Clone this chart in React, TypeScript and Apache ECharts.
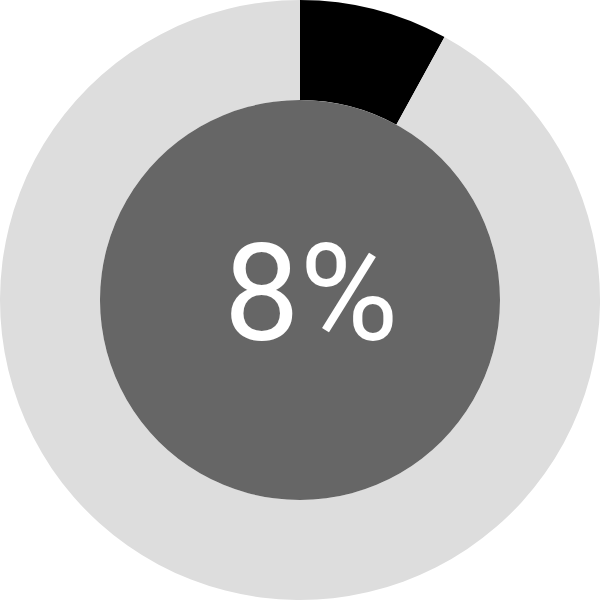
import React, { useRef, useEffect } from 'react';
import * as echarts from 'echarts';

const percent = 8;
const sliceNames = ['value', 'rest'];
const sliceValues = [percent, 100 - percent];
const sliceColors = ['#000000', '#dddddd'];

const App: React.FC = () => {
  const chartRef = useRef<HTMLDivElement>(null);

  useEffect(() => {
    document.body.style.margin = '0';
    if (!chartRef.current) return;
    const chart = echarts.init(chartRef.current, null, { renderer: 'svg' });
    chart.setOption({
      animation: false,
      series: [
        {
          type: 'pie',
          radius: ['66.67%', '100%'],
          center: ['50%', '50%'],
          startAngle: 90,
          clockwise: true,
          silent: true,
          label: { show: false },
          labelLine: { show: false },
          data: sliceNames.map((name, i) => ({
            name,
            value: sliceValues[i],
            itemStyle: { color: sliceColors[i] },
          })),
        },
        {
          type: 'pie',
          radius: [0, '66.67%'],
          center: ['50%', '50%'],
          silent: true,
          label: { show: false },
          labelLine: { show: false },
          data: [{ name: 'center', value: 1, itemStyle: { color: '#666666' } }],
        },
      ],
      graphic: [
        {
          type: 'text',
          z: 100,
          x: 311,
          y: 294,
          style: {
            text: `${percent}%`,
            fill: '#ffffff',
            fontSize: 135,
            fontFamily: 'Roboto',
            textAlign: 'center',
            textVerticalAlign: 'middle',
          },
        },
      ],
    });
    return () => {
      chart.dispose();
    };
  }, []);

  return <div ref={chartRef} style={{ width: 600, height: 600 }} />;
};

export default App;
